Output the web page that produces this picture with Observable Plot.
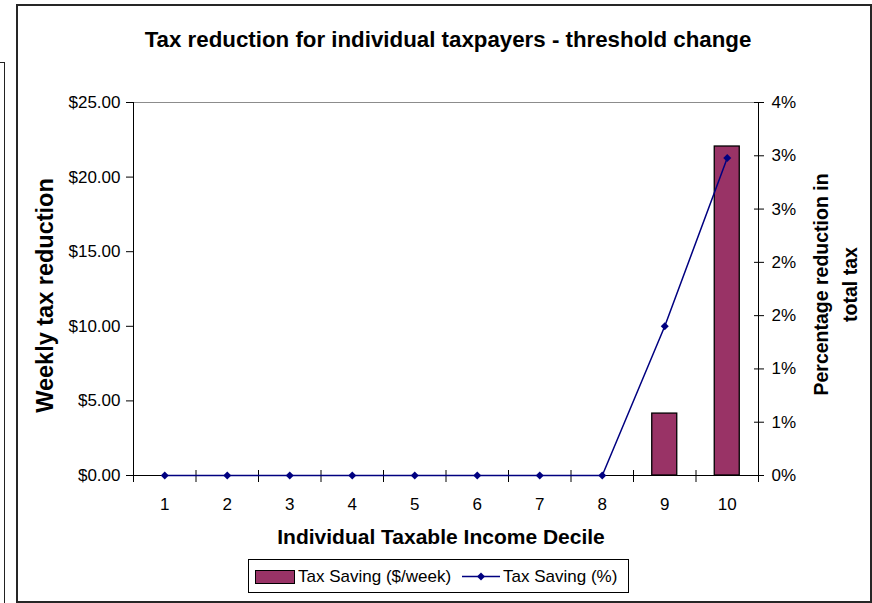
<!DOCTYPE html>
<html>
<head>
<meta charset="utf-8">
<script src="https://cdn.jsdelivr.net/npm/d3@7"></script>
<script src="https://cdn.jsdelivr.net/npm/@observablehq/plot@0.6"></script>
<style>
  html, body { margin: 0; padding: 0; background: #fff; }
  #chart { position: relative; width: 872px; height: 603px; overflow: hidden;
           font-family: "Liberation Sans", Arial, Helvetica, sans-serif; color: #000; }
  #chart > svg { position: absolute; left: 0; top: 0; }
  .frame { position: absolute; left: 16px; top: 4px; width: 856px; height: 599px;
           box-sizing: border-box; border: 2px solid #262626; }
  .side-box { position: absolute; left: -30px; top: 62px; width: 35px; height: 600px;
              box-sizing: border-box; border: 1px solid #222; }
  #chart > svg#legend { left: 248px; top: 559px; }
</style>
</head>
<body>
<div id="chart">
  <div class="side-box"></div>
  <div class="frame"></div>
</div>
<script>
// Tax saving per income decile: weekly dollars (bars, left axis) and percent of total tax (line, right axis)
const deciles = [1, 2, 3, 4, 5, 6, 7, 8, 9, 10];
const savingDollars = [0, 0, 0, 0, 0, 0, 0, 0, 4.15, 22.05];
const savingPercent = [0, 0, 0, 0, 0, 0, 0, 0, 1.40, 2.98];
const dollarTicks = [0, 5, 10, 15, 20, 25];
const percentTicks = [0, 0.5, 1, 1.5, 2, 2.5, 3, 3.5];
const seriesNames = ["Tax Saving ($/week)", "Tax Saving (%)"];
const chartTitle = "Tax reduction for individual taxpayers - threshold change";
const xTitle = "Individual Taxable Income Decile";
const yLeftTitle = "Weekly tax reduction";
const yRightTitle = "Percentage reduction in\ntotal tax";

const barColor = "#993366";
const lineColor = "#000080";
const font = "'Liberation Sans', Arial, Helvetica, sans-serif";

const rows = deciles.map((decile, i) => ({decile, dollars: savingDollars[i], percent: savingPercent[i]}));

// the percent axis shares the y scale: its top tick lines up with the top dollar tick
const k = d3.max(dollarTicks) / d3.max(percentTicks);
const boundaries = d3.range(deciles.length + 1).map(i => deciles[0] - 0.5 + i);

const chart = Plot.plot({
  width: 872,
  height: 603,
  marginTop: 102,
  marginRight: 114,
  marginBottom: 128,
  marginLeft: 133,
  style: {fontFamily: font, fontSize: "17px", color: "#000", background: "transparent", overflow: "visible"},
  x: {type: "linear", domain: [deciles[0] - 0.5, deciles[deciles.length - 1] + 0.5]},
  y: {domain: [0, d3.max(dollarTicks)]},
  marks: [
    Plot.ruleY([d3.max(dollarTicks)], {stroke: "#8c8c8c"}),
    Plot.rect(rows.filter(d => d.dollars > 0), {
      x1: d => d.decile - 0.5, x2: d => d.decile + 0.5, y1: 0, y2: "dollars",
      insetLeft: 18.75, insetRight: 18.75,
      fill: barColor, stroke: "#000", strokeWidth: 1.3
    }),
    Plot.ruleX([boundaries[0]], {stroke: "#000"}),
    Plot.ruleX([boundaries[boundaries.length - 1]], {stroke: "#000"}),
    Plot.ruleY([0], {stroke: "#000"}),
    // left axis: dollars
    Plot.axisY(dollarTicks, {tickSize: 7, tickPadding: 6, tickFormat: d => "$" + d.toFixed(2), label: null}),
    // right axis: percent, ticks cross the axis line
    Plot.axisY(percentTicks.map(p => p * k), {anchor: "right", tickSize: 10, dx: -5, fill: "none", label: null}),
    Plot.axisY(percentTicks.map(p => p * k), {
      anchor: "right", tickSize: 0, tickPadding: 13, label: null,
      tickFormat: d => Math.round(d / k + 1e-9) + "%"
    }),
    // category boundaries and decile labels
    Plot.axisX(boundaries, {tickSize: 12, dy: -5, fill: "none", label: null}),
    Plot.axisX(deciles, {tickSize: 0, tickPadding: 22, label: null}),
    Plot.line(rows, {x: "decile", y: d => d.percent * k, stroke: lineColor, strokeWidth: 1.5}),
    Plot.dot(rows, {x: "decile", y: d => d.percent * k, symbol: "diamond2", r: 3.6, fill: lineColor, stroke: "none"}),
    // titles
    Plot.text([chartTitle], {frameAnchor: "top", dx: 2, dy: -56, lineAnchor: "bottom", fontSize: 22.3, fontWeight: "bold"}),
    Plot.text([xTitle], {frameAnchor: "bottom", dx: -5, dy: 68, lineAnchor: "bottom", fontSize: 21, fontWeight: "bold"}),
    Plot.text([yLeftTitle], {frameAnchor: "left", textAnchor: "middle", lineAnchor: "middle", rotate: -90, dx: -88, dy: 6.5, fontSize: 23.5, fontWeight: "bold"}),
    Plot.text([yRightTitle], {frameAnchor: "right", textAnchor: "middle", lineAnchor: "middle", rotate: -90, dx: 75, dy: -4.5, fontSize: 19.5, fontWeight: "bold", lineHeight: 1.44})
  ]
});
document.getElementById("chart").appendChild(chart);

// legend box below the plot
const legend = d3.select("#chart").append("svg")
  .attr("id", "legend")
  .attr("width", 382)
  .attr("height", 35)
  .style("font-family", font)
  .style("font-size", "17px");
legend.append("rect").attr("x", 0.5).attr("y", 0.5).attr("width", 380).attr("height", 33)
  .attr("fill", "#fff").attr("stroke", "#000");
legend.append("rect").attr("x", 7.5).attr("y", 11.5).attr("width", 39).attr("height", 13)
  .attr("fill", barColor).attr("stroke", "#000");
legend.append("text").attr("x", 50).attr("y", 23).text(seriesNames[0]);
legend.append("line").attr("x1", 214).attr("x2", 252).attr("y1", 17.5).attr("y2", 17.5)
  .attr("stroke", lineColor).attr("stroke-width", 1.5);
legend.append("path").attr("d", d3.symbol(d3.symbolDiamond2, Math.PI * 3.6 * 3.6)())
  .attr("transform", "translate(233,17.5)").attr("fill", lineColor);
legend.append("text").attr("x", 255).attr("y", 23).text(seriesNames[1]);
</script>
</body>
</html>
